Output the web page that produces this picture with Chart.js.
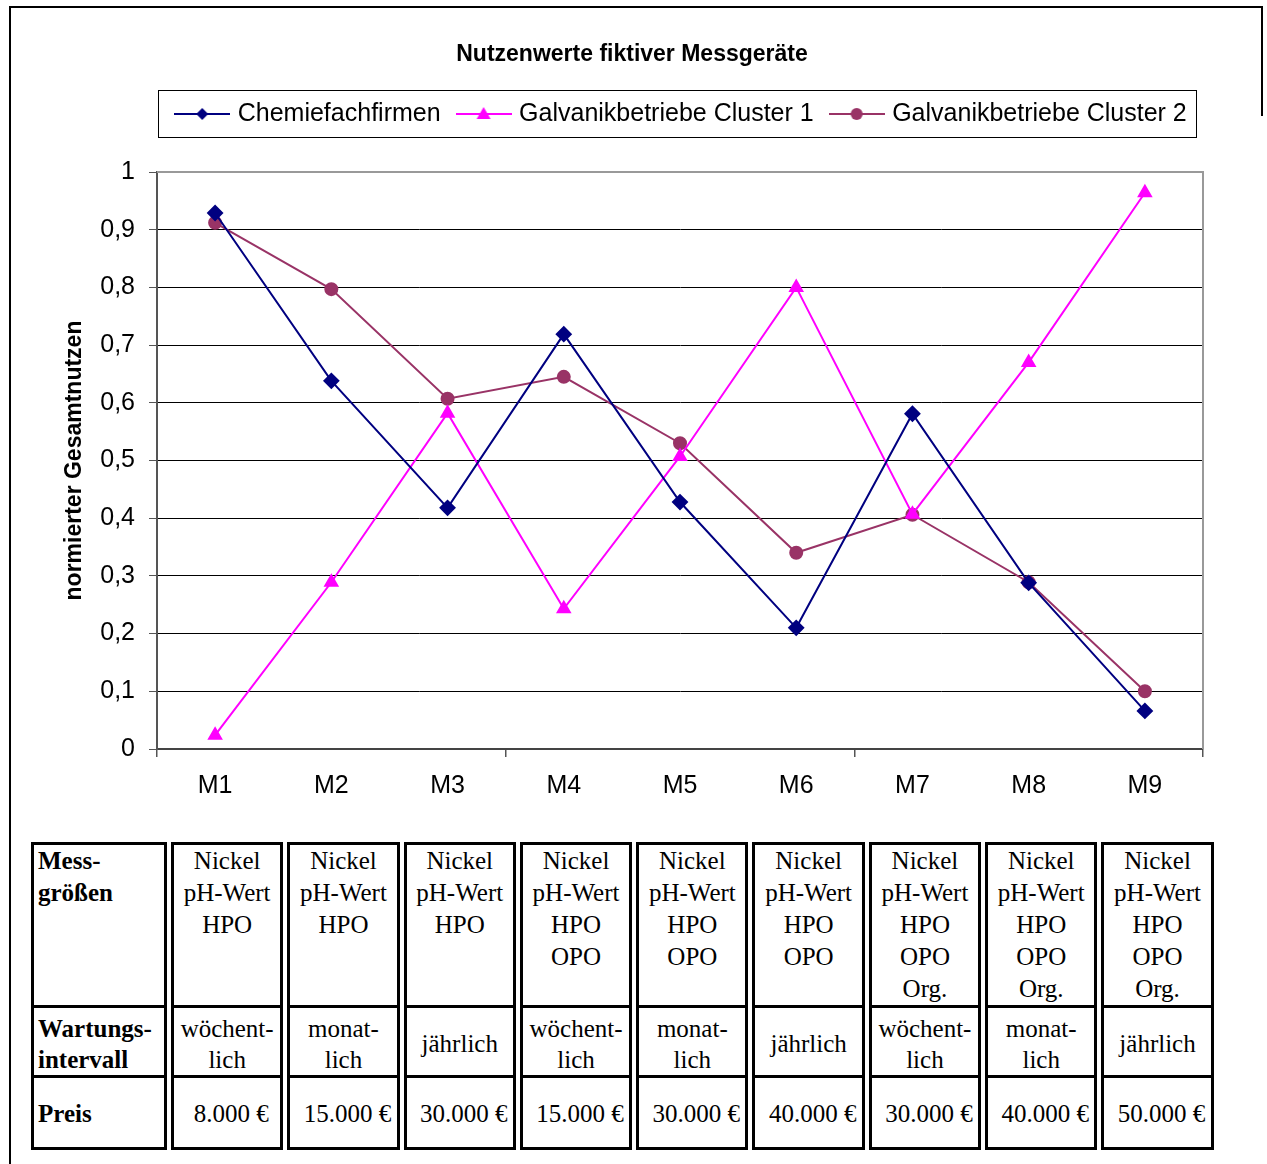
<!DOCTYPE html>
<html lang="de">
<head>
<meta charset="UTF-8">
<title>Nutzenwerte fiktiver Messgeräte</title>
<script src="https://cdn.jsdelivr.net/npm/chart.js"></script>
<style>
  html, body { margin: 0; padding: 0; background: #fff; overflow: hidden; }
  .frame { position: absolute; left: 9px; top: 6px; width: 1252px; height: 1200px;
           border-left: 2px solid #000; border-top: 2px solid #000; }
  .frame-right { position: absolute; left: 1261px; top: 6px; width: 2px; height: 110px; background: #000; }
  .chart-box { position: absolute; left: 12px; top: 8px; width: 1240px; height: 810px; }
  table.specs { position: absolute; left: 27px; top: 842px; border-collapse: separate; border-spacing: 4px 0;
                font-family: "Liberation Serif", "Times New Roman", serif; font-size: 25px; color: #000; }
  table.specs td { border: 3px solid #000; border-top: none; padding: 0; text-align: center; width: 106.3px; }
  table.specs tr:first-child td { border-top: 3px solid #000; }
  table.specs td.head { text-align: left; font-weight: bold; width: 126px; padding-left: 4px; }
  table.specs tr.r1 td { height: 160px; vertical-align: top; line-height: 32px; }
  table.specs tr.r2 td { height: 63px; vertical-align: middle; line-height: 31px; padding-top: 4px; }
  table.specs tr.r3 td { height: 67px; vertical-align: middle; padding-top: 2px; }
  table.specs tr.r3 td.price { padding-left: 8px; width: 98.3px; white-space: nowrap; }
</style>
</head>
<body>
<div class="frame"></div>
<div class="frame-right"></div>
<div class="chart-box"><canvas id="nutzenChart"></canvas></div>

<table class="specs">
  <tr class="r1">
    <td class="head">Mess-<br>größen</td>
    <td>Nickel<br>pH-Wert<br>HPO</td>
    <td>Nickel<br>pH-Wert<br>HPO</td>
    <td>Nickel<br>pH-Wert<br>HPO</td>
    <td>Nickel<br>pH-Wert<br>HPO<br>OPO</td>
    <td>Nickel<br>pH-Wert<br>HPO<br>OPO</td>
    <td>Nickel<br>pH-Wert<br>HPO<br>OPO</td>
    <td>Nickel<br>pH-Wert<br>HPO<br>OPO<br>Org.</td>
    <td>Nickel<br>pH-Wert<br>HPO<br>OPO<br>Org.</td>
    <td>Nickel<br>pH-Wert<br>HPO<br>OPO<br>Org.</td>
  </tr>
  <tr class="r2">
    <td class="head">Wartungs-<br>intervall</td>
    <td>wöchent-<br>lich</td>
    <td>monat-<br>lich</td>
    <td>jährlich</td>
    <td>wöchent-<br>lich</td>
    <td>monat-<br>lich</td>
    <td>jährlich</td>
    <td>wöchent-<br>lich</td>
    <td>monat-<br>lich</td>
    <td>jährlich</td>
  </tr>
  <tr class="r3">
    <td class="head">Preis</td>
    <td class="price">8.000 €</td>
    <td class="price">15.000 €</td>
    <td class="price">30.000 €</td>
    <td class="price">15.000 €</td>
    <td class="price">30.000 €</td>
    <td class="price">40.000 €</td>
    <td class="price">30.000 €</td>
    <td class="price">40.000 €</td>
    <td class="price">50.000 €</td>
  </tr>
</table>

<script>
// data
const labels = ["M1", "M2", "M3", "M4", "M5", "M6", "M7", "M8", "M9"];
const chemiefachfirmen = [0.929, 0.638, 0.418, 0.719, 0.428, 0.21, 0.581, 0.288, 0.066];
const galvanikCluster1 = [0.024, 0.289, 0.582, 0.243, 0.507, 0.80, 0.407, 0.670, 0.964];
const galvanikCluster2 = [0.912, 0.797, 0.607, 0.645, 0.530, 0.340, 0.406, 0.289, 0.100];

const NAVY = "#000080";
const MAGENTA = "#FF00FF";
const PLUM = "#993366";
const FONT = "Liberation Sans, Arial, sans-serif";

// legend marker: short line with the point marker in the middle (Excel style)
function legendMarker(color, shape) {
    const c = document.createElement("canvas");
    c.width = 56; c.height = 16;
    const ctx = c.getContext("2d");
    ctx.strokeStyle = color;
    ctx.fillStyle = color;
    ctx.lineWidth = 2;
    ctx.beginPath(); ctx.moveTo(0, 8); ctx.lineTo(56, 8); ctx.stroke();
    ctx.beginPath();
    if (shape === "diamond") {
        ctx.moveTo(28, 2); ctx.lineTo(34, 8); ctx.lineTo(28, 14); ctx.lineTo(22, 8);
    } else if (shape === "triangle") {
        ctx.moveTo(28, 1); ctx.lineTo(35, 13); ctx.lineTo(21, 13);
    } else {
        ctx.arc(28, 8, 6, 0, Math.PI * 2);
    }
    ctx.closePath(); ctx.fill();
    return c;
}

const markers = [
    legendMarker(NAVY, "diamond"),
    legendMarker(MAGENTA, "triangle"),
    legendMarker(PLUM, "circle")
];

const LEGEND_SHIFT = 51;

// moves the legend a bit right, draws its frame and the plot border
const frames = {
    id: "frames",
    beforeInit(chart) {
        const fit = chart.legend.fit;
        chart.legend.fit = function () {
            fit.bind(chart.legend)();
            this.height += 35.5;
        };
    },
    afterLayout(chart) {
        chart.legend.left += LEGEND_SHIFT;
        chart.legend.right += LEGEND_SHIFT;
    },
    beforeDatasetsDraw(chart) {
        const { ctx, chartArea } = chart;
        ctx.save();
        ctx.strokeStyle = "#999";
        ctx.lineWidth = 2;
        ctx.beginPath();
        ctx.moveTo(chartArea.left, chartArea.top);
        ctx.lineTo(chartArea.right, chartArea.top);
        ctx.lineTo(chartArea.right, chartArea.bottom);
        ctx.stroke();
        ctx.restore();
    },
    afterDraw(chart) {
        const lg = chart.legend;
        const pad = lg.options.labels.padding;
        const cx = (lg.left + lg.right) / 2;
        const w = lg.lineWidths[0];
        const rowStart = cx - w / 2 + pad / 2 - 5;
        const rowEnd = cx + w / 2 - pad / 2;
        const rowMid = lg.top + pad + 12.5;
        const ctx = chart.ctx;
        ctx.save();
        ctx.strokeStyle = "#000";
        ctx.lineWidth = 1;
        ctx.strokeRect(Math.round(rowStart - 16) + 0.5, Math.round(rowMid - 24) + 0.5,
            Math.round(rowEnd - rowStart + 25), 47);
        ctx.restore();
    }
};

const ctx = document.getElementById("nutzenChart").getContext("2d");
new Chart(ctx, {
    type: "line",
    data: {
        labels: labels,
        datasets: [{
            label: "Chemiefachfirmen",
            data: chemiefachfirmen,
            borderColor: NAVY,
            backgroundColor: NAVY,
            pointStyle: "rectRot",
            pointRadius: 7,
            borderWidth: 2
        }, {
            label: "Galvanikbetriebe Cluster 1",
            data: galvanikCluster1,
            borderColor: MAGENTA,
            backgroundColor: MAGENTA,
            pointStyle: "triangle",
            pointRadius: 7,
            borderWidth: 2
        }, {
            label: "Galvanikbetriebe Cluster 2",
            data: galvanikCluster2,
            borderColor: PLUM,
            backgroundColor: PLUM,
            pointStyle: "circle",
            pointRadius: 6,
            borderWidth: 2
        }]
    },
    options: {
        responsive: true,
        maintainAspectRatio: false,
        animation: false,
        layout: { padding: { left: 49, right: 49, top: 0, bottom: 17 } },
        elements: { line: { tension: 0 }, point: { borderWidth: 1, hoverRadius: 7 } },
        plugins: {
            title: {
                display: true,
                text: "Nutzenwerte fiktiver Messgeräte",
                color: "#000",
                font: { family: FONT, size: 23, weight: "bold" },
                padding: { top: 33, bottom: 12.9 }
            },
            legend: {
                display: true,
                labels: {
                    color: "#000",
                    font: { family: FONT, size: 25 },
                    usePointStyle: true,
                    pointStyleWidth: 46,
                    padding: 20,
                    generateLabels: (chart) => chart.data.datasets.map((ds, i) => ({
                        text: ds.label,
                        pointStyle: markers[i],
                        fillStyle: ds.borderColor,
                        strokeStyle: ds.borderColor,
                        lineWidth: 0,
                        hidden: false,
                        datasetIndex: i,
                        fontColor: "#000"
                    }))
                }
            },
            tooltip: { enabled: false }
        },
        scales: {
            x: {
                offset: true,
                afterFit: (scale) => { scale.height = 52; },
                grid: {
                    offset: true,
                    drawOnChartArea: false,
                    tickLength: 8,
                    lineWidth: 1.5,
                    color: (c) => (c.index === undefined || c.index % 3 === 0) ? "#555" : "rgba(0,0,0,0)"
                },
                border: { color: "#444", width: 2 },
                ticks: {
                    color: "#000",
                    padding: 14,
                    font: { family: FONT, size: 25 }
                }
            },
            y: {
                min: 0,
                max: 1,
                afterFit: (scale) => { scale.width = 96; },
                grid: {
                    color: (c) => c.tick && c.tick.value >= 1 ? "#999" : "#000",
                    lineWidth: 1,
                    tickLength: 8,
                    tickColor: "#555"
                },
                border: { color: "#555", width: 2 },
                ticks: {
                    stepSize: 0.1,
                    color: "#000",
                    padding: 14,
                    font: { family: FONT, size: 25 },
                    callback: (v) => String(Number(v.toFixed(1))).replace(".", ",")
                },
                title: {
                    display: true,
                    text: "normierter Gesamtnutzen",
                    color: "#000",
                    font: { family: FONT, size: 23, weight: "bold" },
                    padding: { top: 0, bottom: 0 }
                }
            }
        }
    },
    plugins: [frames]
});
</script>
</body>
</html>
